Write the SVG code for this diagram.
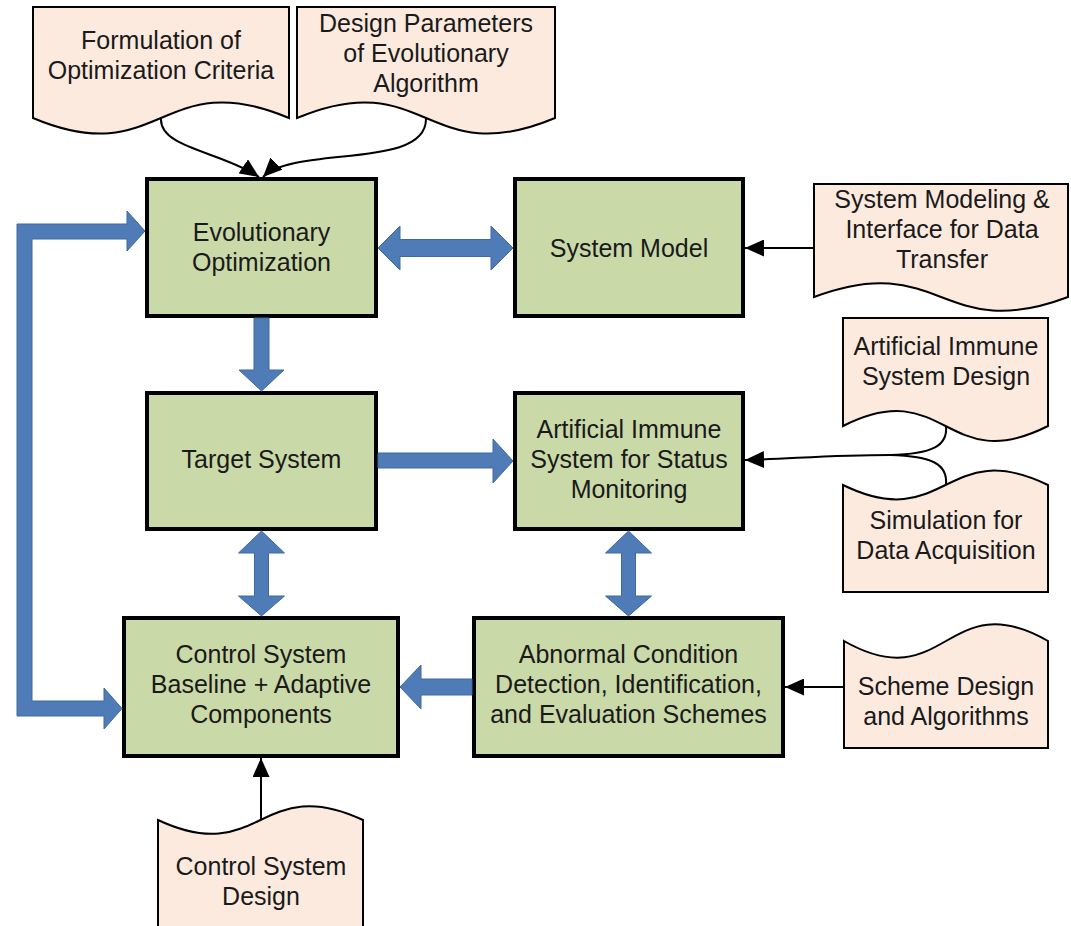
<svg xmlns="http://www.w3.org/2000/svg" width="1071" height="926" viewBox="0 0 1071 926">
  <style>
    .box { fill: #cad9a8; stroke: #000; stroke-width: 4; }
    .doc { fill: #fdeadf; stroke: #000; stroke-width: 2; }
    .lbl { font-family: "Liberation Sans", Arial, sans-serif; font-size: 25px; fill: #1a1a1a; text-anchor: middle; }
    .block { fill: #4f7cb6; stroke: #3f6a9f; stroke-width: 1; }
    .wire { fill: none; stroke: #000; stroke-width: 2; }
  </style>
  <defs>
    <marker id="tip" markerUnits="userSpaceOnUse" markerWidth="19" markerHeight="17" refX="19" refY="8.5" orient="auto">
      <path d="M0,0 L19,8.5 L0,17 Z" fill="#000"/>
    </marker>
  </defs>

  <rect width="1071" height="926" fill="#fff"/>

  <!-- input documents -->
  <g id="doc-criteria">
    <path class="doc" d="M33,7 H289 V118 C161,64 161,172 33,118 Z"/>
    <text class="lbl" x="161" y="49">Formulation of</text>
    <text class="lbl" x="161" y="79">Optimization Criteria</text>
  </g>
  <g id="doc-ea-params">
    <path class="doc" d="M297,7 H555 V118 C426,172 426,64 297,118 Z"/>
    <text class="lbl" x="426" y="32">Design Parameters</text>
    <text class="lbl" x="426" y="62">of Evolutionary</text>
    <text class="lbl" x="426" y="92">Algorithm</text>
  </g>
  <g id="doc-modeling">
    <path class="doc" d="M814,184 H1068 V297 C941,345 941,249 814,297 Z"/>
    <text class="lbl" x="942" y="208">System Modeling &amp;</text>
    <text class="lbl" x="942" y="238">Interface for Data</text>
    <text class="lbl" x="942" y="268">Transfer</text>
  </g>
  <g id="doc-ais-design">
    <path class="doc" d="M843,318 H1048 V426 C945.5,478 945.5,374 843,426 Z"/>
    <text class="lbl" x="946" y="355">Artificial Immune</text>
    <text class="lbl" x="946" y="385">System Design</text>
  </g>
  <g id="doc-simulation">
    <path class="doc" d="M843,485 C945.5,535 945.5,435 1048,485 V592 H843 Z"/>
    <text class="lbl" x="946" y="529">Simulation for</text>
    <text class="lbl" x="946" y="559">Data Acquisition</text>
  </g>
  <g id="doc-scheme">
    <path class="doc" d="M844,641 C946,699 946,583 1048,641 V748 H844 Z"/>
    <text class="lbl" x="946" y="695">Scheme Design</text>
    <text class="lbl" x="946" y="725">and Algorithms</text>
  </g>
  <g id="doc-control-design">
    <path class="doc" d="M158,820 C260.5,868 260.5,772 363,820 V935 H158 Z"/>
    <text class="lbl" x="261" y="875">Control System</text>
    <text class="lbl" x="261" y="905">Design</text>
  </g>

  <!-- process blocks -->
  <g id="evolutionary-optimization">
    <rect class="box" x="147" y="179" width="229" height="137"/>
    <text class="lbl" x="261.5" y="241">Evolutionary</text>
    <text class="lbl" x="261.5" y="271">Optimization</text>
  </g>
  <g id="system-model">
    <rect class="box" x="515" y="179" width="228" height="137"/>
    <text class="lbl" x="629" y="257">System Model</text>
  </g>
  <g id="target-system">
    <rect class="box" x="147" y="393" width="229" height="136"/>
    <text class="lbl" x="261.5" y="468">Target System</text>
  </g>
  <g id="ais-monitoring">
    <rect class="box" x="515" y="393" width="228" height="136"/>
    <text class="lbl" x="629" y="438">Artificial Immune</text>
    <text class="lbl" x="629" y="468">System for Status</text>
    <text class="lbl" x="629" y="498">Monitoring</text>
  </g>
  <g id="control-system">
    <rect class="box" x="124" y="618" width="274" height="138"/>
    <text class="lbl" x="261" y="663">Control System</text>
    <text class="lbl" x="261" y="693">Baseline + Adaptive</text>
    <text class="lbl" x="261" y="723">Components</text>
  </g>
  <g id="abnormal-condition">
    <rect class="box" x="474" y="618" width="309" height="138"/>
    <text class="lbl" x="628.5" y="663">Abnormal Condition</text>
    <text class="lbl" x="628.5" y="693">Detection, Identification,</text>
    <text class="lbl" x="628.5" y="723">and Evaluation Schemes</text>
  </g>

  <!-- connectors -->
  <g id="connectors">
    <!-- block arrows -->
    <polygon class="block" points="378,248 400,226 400,239.5 491,239.5 491,226 513,248 491,270 491,256.5 400,256.5 400,270"/>
    <polygon class="block" points="254,318 269,318 269,370 284,370 261.5,391 239,370 254,370"/>
    <polygon class="block" points="378,453 493,453 493,439 513,461 493,483 493,468 378,468"/>
    <polygon class="block" points="261.5,531 284.5,553 268.5,553 268.5,596 284.5,596 261.5,616 238.5,596 254.5,596 254.5,553 238.5,553"/>
    <polygon class="block" points="628.5,531 651.5,553 635.5,553 635.5,596 651.5,596 628.5,616 605.5,596 621.5,596 621.5,553 605.5,553"/>
    <polygon class="block" points="472,679 421,679 421,665 400,687 421,709 421,695 472,695"/>
    <polygon class="block" points="145,231 127,211 127,224 17,224 17,716 104,716 104,729 122,708.5 104,688 104,701 32,701 32,239 127,239 127,251"/>

    <!-- document inputs -->
    <path class="wire" d="M161,119 C160,148 222,152 259,177" marker-end="url(#tip)"/>
    <path class="wire" d="M426,119 C426,170 295,145 263,177" marker-end="url(#tip)"/>
    <path class="wire" d="M814,248 L745,248" marker-end="url(#tip)"/>
    <path class="wire" d="M946,426 C948,446 932,454 890,455"/>
    <path class="wire" d="M946,485 C948,464 932,456 890,455"/>
    <path class="wire" d="M890,455 C830,455 790,459 745,460" marker-end="url(#tip)"/>
    <path class="wire" d="M844,687 L785,687" marker-end="url(#tip)"/>
    <path class="wire" d="M261,820 L261,758" marker-end="url(#tip)"/>
  </g>
</svg>
